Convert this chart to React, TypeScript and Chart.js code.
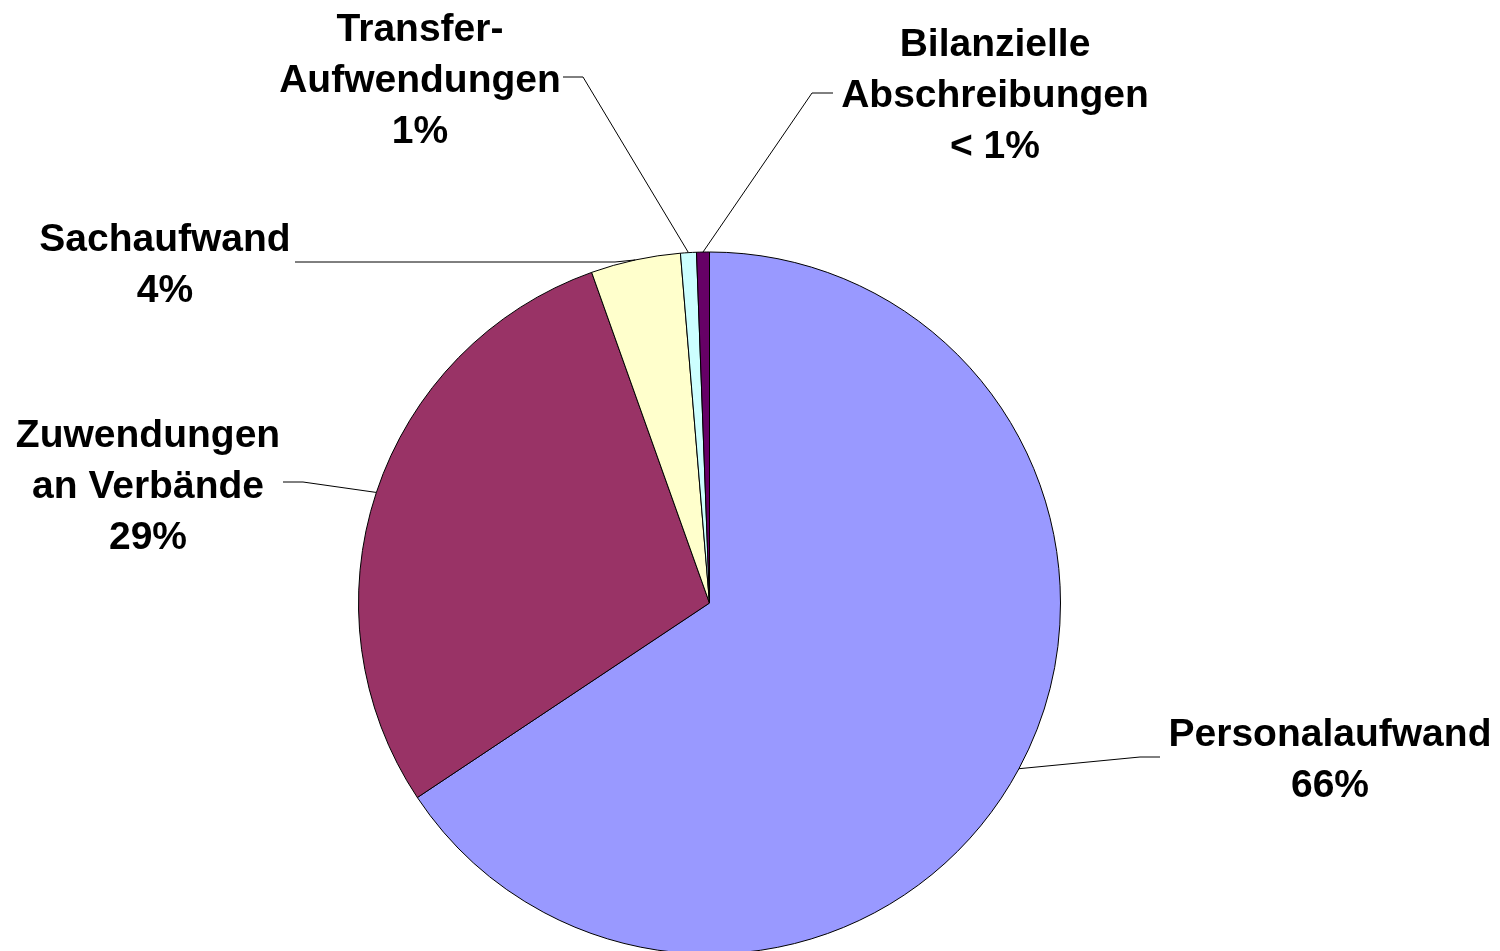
import React, { useEffect, useRef } from "react";
import { Chart, registerables } from "chart.js";

Chart.register(...registerables);

const categories = [
  "Personalaufwand",
  "Zuwendungen an Verbände",
  "Sachaufwand",
  "Transfer-Aufwendungen",
  "Bilanzielle Abschreibungen",
];
const values = [65.65, 28.9, 4.13, 0.73, 0.59];
const percentLabels = ["66%", "29%", "4%", "1%", "< 1%"];
const labelLines = [
  ["Personalaufwand"],
  ["Zuwendungen", "an Verbände"],
  ["Sachaufwand"],
  ["Transfer-", "Aufwendungen"],
  ["Bilanzielle", "Abschreibungen"],
];
const colors = ["#9999FF", "#993366", "#FFFFCC", "#CCFFFF", "#660066"];

// label layout (text centre x, first line centre y, leader start, elbow)
const labelLayout = [
  { x: 1330, y: 735, start: [1160, 757], elbow: [1140, 757] },
  { x: 148, y: 436, start: [283, 482], elbow: [303, 482] },
  { x: 165, y: 240, start: [295, 262], elbow: [615, 262] },
  { x: 420, y: 30, start: [563, 77], elbow: [583, 77] },
  { x: 995, y: 45, start: [833, 93], elbow: [812, 93] },
];

const LINE_H = 51;
const FONT = "bold 39px 'Liberation Sans', Arial, sans-serif";

const labelPlugin = {
  id: "pieLabels",
  afterDraw(chart: any) {
    const ctx = chart.ctx;
    const meta = chart.getDatasetMeta(0);
    ctx.save();
    ctx.strokeStyle = "#000";
    ctx.lineWidth = 1;
    meta.data.forEach((arc: any, i: number) => {
      const p = arc.getProps(["x", "y", "startAngle", "endAngle", "outerRadius"], true);
      const mid = (p.startAngle + p.endAngle) / 2;
      const tx = p.x + Math.cos(mid) * p.outerRadius;
      const ty = p.y + Math.sin(mid) * p.outerRadius;
      const L = labelLayout[i];
      ctx.beginPath();
      ctx.moveTo(L.start[0], L.start[1]);
      ctx.lineTo(L.elbow[0], L.elbow[1]);
      ctx.lineTo(tx, ty);
      ctx.stroke();

      const lines = [...labelLines[i], percentLabels[i]];
      ctx.fillStyle = "#000";
      ctx.font = FONT;
      ctx.textAlign = "center";
      ctx.textBaseline = "middle";
      lines.forEach((t, k) => {
        ctx.fillText(t, L.x, L.y + k * LINE_H);
      });
    });
    ctx.restore();
  },
};

export default function App() {
  const ref = useRef<HTMLCanvasElement>(null);
  useEffect(() => {
    if (!ref.current) return;
    const chart = new Chart(ref.current, {
      type: "pie",
      data: {
        labels: categories,
        datasets: [
          {
            data: values,
            backgroundColor: colors,
            borderColor: "#000",
            borderWidth: 1,
            radius: 351,
          } as any,
        ],
      },
      options: {
        animation: false,
        responsive: false,
        layout: { padding: { left: 0, right: 81, top: 255, bottom: 0 } },
        plugins: {
          legend: { display: false },
          tooltip: { enabled: false },
        },
      },
      plugins: [labelPlugin],
    });
    return () => chart.destroy();
  }, []);
  return (
    <div style={{ position: "absolute", left: 0, top: 0, width: 1500, height: 951, background: "#fff" }}>
      <canvas ref={ref} width={1500} height={951} style={{ display: "block" }} />
    </div>
  );
}
